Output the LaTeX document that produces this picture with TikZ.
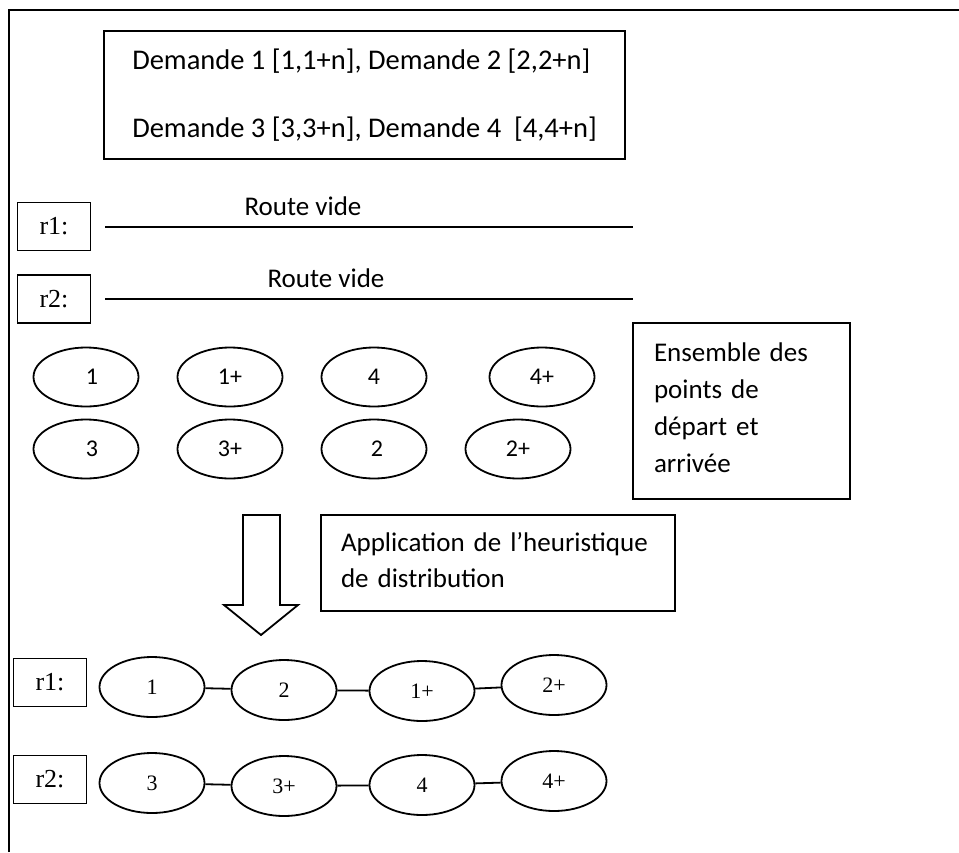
\documentclass[tikz,border=0pt]{standalone}
\usepackage{fontspec}
\setmainfont{Carlito}
\newfontfamily\timesfont{Liberation Serif}
\usepackage{tikz}
\usetikzlibrary{shapes.geometric}

\begin{document}
\begin{tikzpicture}[x=1pt,y=-1pt,line width=1.8pt,
    box/.style={draw,inner sep=0pt},
    txt/.style={font=\fontsize{27}{37}\selectfont},
    spot/.style={draw,ellipse,inner sep=0pt,minimum width=105,minimum height=59,font=\fontsize{24}{28}\selectfont},
    rspot/.style={draw,ellipse,inner sep=0pt,minimum width=105,minimum height=60,font=\timesfont\fontsize{22}{26}\selectfont},
    rbox/.style={draw,inner sep=0pt,minimum width=73,minimum height=48,font=\timesfont\fontsize{26}{30}\selectfont}]
    \useasboundingbox (0,0) rectangle (959,852);
    \draw (9,852) -- (9,10) -- (959,10);
    % demandes
    \node[box,font=\fontsize{28.5}{68}\selectfont,minimum width=521,minimum height=128,align=left] (dem) at (364.5,95)
        {Demande 1 [1,1+n], Demande 2 [2,2+n]\\Demande 3 [3,3+n], Demande 4\ \ [4,4+n]};
    % routes vides
    \node[rbox] (r1) at (54,226.5) {r1:};
    \node[rbox] (r2) at (54,299) {r2:};
    \coordinate (r1a) at (105,227);
    \coordinate (r1b) at (633,227);
    \coordinate (r2a) at (105,299);
    \coordinate (r2b) at (633,299);
    \draw[-] (r1a) to (r1b);
    \draw[-] (r2a) to (r2b);
    \node[txt] (v1) at (303,206) {Route vide};
    \node[txt] (v2) at (326,278) {Route vide};
    % points de depart et arrivee
    \node[spot] (s1) at (86,377) {\hspace{12pt}1};
    \node[spot] (s1p) at (230,377) {1+};
    \node[spot] (s4) at (374,377) {4};
    \node[spot] (s4p) at (542,377) {4+};
    \node[spot] (s3) at (86,449) {\hspace{12pt}3};
    \node[spot] (s3p) at (230,449) {3+};
    \node[spot] (s2) at (374,449) {\hspace{6pt}2};
    \node[spot] (s2p) at (518,449) {2+};
    \node[box,txt,minimum width=217,minimum height=176,text width=175,align=left] (ens) at (741.5,411)
        {Ensemble des\\points de\\départ et\\arrivée\vspace{6pt}};
    % heuristique
    \draw (243,515) -- (280,515) -- (280,605) -- (298,605) -- (261,635) -- (224,605) -- (243,605) -- cycle;
    \node[box,font=\fontsize{27}{36}\selectfont,minimum width=354,minimum height=96,text width=314,align=left] (heur) at (498,563)
        {Application de l’heuristique\\de distribution\vspace{6pt}};
    % routes construites
    \node[rbox] (q1) at (50,682.5) {r1:};
    \node[rspot] (a1) at (152,687) {1};
    \node[rspot] (a2) at (284,690) {2};
    \node[rspot] (a1p) at (422,691) {1+};
    \node[rspot] (a2p) at (554,685) {2+};
    \draw[-] (a1) to (a2);
    \draw[-] (a2) to (a1p);
    \draw[-] (a1p) to (a2p);
    \node[rbox] (q2) at (50,779.5) {r2:};
    \node[rspot] (b3) at (152,783) {3};
    \node[rspot] (b3p) at (284,786) {3+};
    \node[rspot] (b4) at (422,785) {4};
    \node[rspot] (b4p) at (554,781) {4+};
    \draw[-] (b3) to (b3p);
    \draw[-] (b3p) to (b4);
    \draw[-] (b4) to (b4p);
\end{tikzpicture}
\end{document}
